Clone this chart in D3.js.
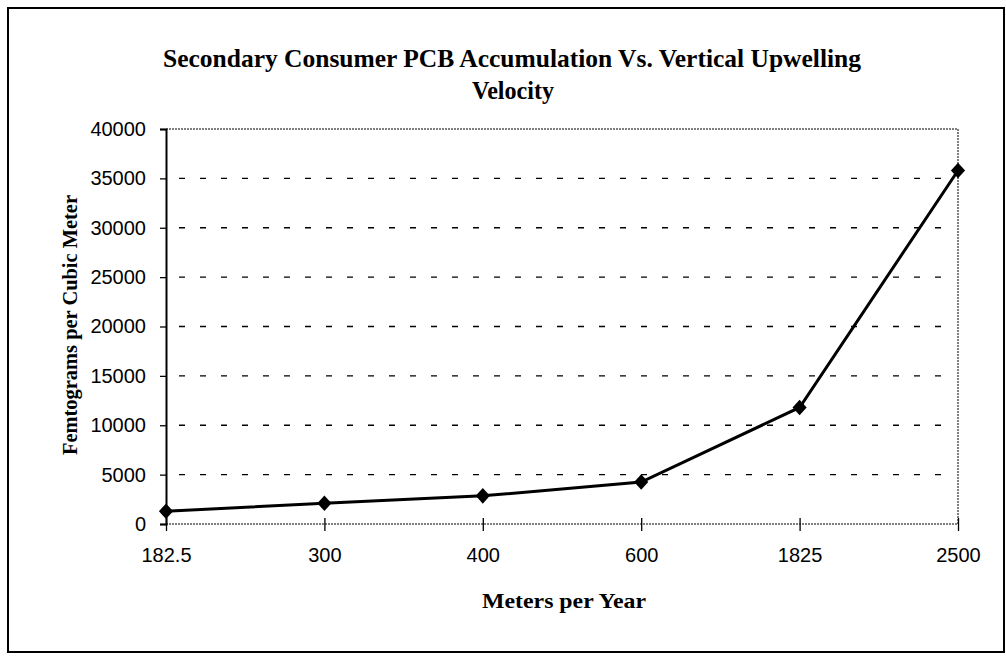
<!DOCTYPE html>
<html>
<head>
<meta charset="utf-8">
<script src="https://cdn.jsdelivr.net/npm/d3@7"></script>
<style>
  body { margin: 0; background: #fff; }
  svg { display: block; }
</style>
</head>
<body>
<div class="chart"></div>
<script>
  const width = 1006;
  const height = 657;
  const margin = { top: 129, right: 48, bottom: 133, left: 166 };

  // data
  const velocities = ['182.5', '300', '400', '600', '1825', '2500'];
  const accumulation = [1300, 2100, 2850, 4250, 11800, 35800];
  const yTicks = [0, 5000, 10000, 15000, 20000, 25000, 30000, 35000, 40000];

  const data = velocities.map((v, i) => ({ v: v, val: accumulation[i] }));

  const svg = d3.select('.chart').append('svg')
    .attr('width', width)
    .attr('height', height);

  // outer frame
  svg.append('rect')
    .attr('x', 8).attr('y', 8)
    .attr('width', 996).attr('height', 644)
    .attr('fill', 'none')
    .attr('stroke', '#000')
    .attr('stroke-width', 2);

  const xScale = d3.scalePoint()
    .domain(velocities)
    .range([margin.left, width - margin.right]);

  const yScale = d3.scaleLinear()
    .domain([0, 40000])
    .range([height - margin.bottom, margin.top]);

  const x0 = margin.left, x1 = width - margin.right;
  const y0 = height - margin.bottom, y1 = margin.top;

  // gridlines
  svg.append('g')
    .attr('class', 'grid')
    .selectAll('line')
    .data(yTicks.filter(d => d > 0 && d < 40000))
    .join('line')
    .attr('x1', x0 + 13)
    .attr('x2', x1 - 4)
    .attr('y1', d => yScale(d))
    .attr('y2', d => yScale(d))
    .attr('stroke', '#000')
    .attr('stroke-width', 1.3)
    .attr('stroke-dasharray', '6,15');

  // plot frame (top, right, bottom dotted grey)
  svg.append('path')
    .attr('d', `M${x0},${y1}H${x1}V${y0}H${x0}`)
    .attr('fill', 'none')
    .attr('stroke', '#555')
    .attr('stroke-width', 1.5)
    .attr('stroke-dasharray', '2,1');

  const yAxis = d3.axisLeft(yScale)
    .tickValues(yTicks)
    .tickSize(6)
    .tickPadding(14)
    .tickFormat(d3.format('d'));

  const gy = svg.append('g')
    .attr('class', 'y-axis')
    .attr('transform', `translate(${x0}, 0)`)
    .call(yAxis);
  gy.select('.domain').attr('stroke', '#000').attr('stroke-width', 2);
  gy.selectAll('.tick line').attr('stroke', '#000').attr('stroke-width', 1.3);
  gy.selectAll('text')
    .style('font-family', '"Liberation Sans", Arial, sans-serif')
    .style('font-size', '20px')
    .attr('fill', '#000');

  const xAxis = d3.axisBottom(xScale)
    .tickSize(6)
    .tickPadding(18)
    .tickSizeOuter(0);

  const gx = svg.append('g')
    .attr('class', 'x-axis')
    .attr('transform', `translate(0, ${y0})`)
    .call(xAxis);
  gx.select('.domain').remove();
  gx.selectAll('.tick line')
    .attr('y1', -6)
    .attr('y2', 7)
    .attr('stroke', '#000')
    .attr('stroke-width', 1.3);
  gx.selectAll('text')
    .style('font-family', '"Liberation Sans", Arial, sans-serif')
    .style('font-size', '20px')
    .attr('fill', '#000');

  // series line
  const line = d3.line()
    .x(d => xScale(d.v))
    .y(d => yScale(d.val));

  svg.append('path')
    .datum(data)
    .attr('d', line)
    .attr('fill', 'none')
    .attr('stroke', '#000')
    .attr('stroke-width', 3);

  svg.append('g')
    .attr('class', 'markers')
    .selectAll('path')
    .data(data)
    .join('path')
    .attr('transform', d => `translate(${xScale(d.v)}, ${yScale(d.val)}) scale(1, 1.1) rotate(45)`)
    .attr('d', d3.symbol(d3.symbolSquare, 100))
    .attr('fill', '#000');

  // titles
  const serif = '"Liberation Serif", "Times New Roman", serif';
  const title = svg.append('text')
    .attr('text-anchor', 'middle')
    .style('font-family', serif)
    .style('font-weight', 'bold')
    .style('font-size', '26px');
  title.append('tspan')
    .attr('x', 512).attr('y', 67)
    .attr('textLength', 698)
    .attr('lengthAdjust', 'spacingAndGlyphs')
    .text('Secondary Consumer PCB Accumulation Vs. Vertical Upwelling');
  title.append('tspan')
    .attr('x', 513).attr('y', 99)
    .attr('textLength', 82)
    .attr('lengthAdjust', 'spacingAndGlyphs')
    .text('Velocity');

  svg.append('text')
    .attr('x', 564).attr('y', 608)
    .attr('text-anchor', 'middle')
    .attr('textLength', 164)
    .attr('lengthAdjust', 'spacingAndGlyphs')
    .style('font-family', serif)
    .style('font-weight', 'bold')
    .style('font-size', '21px')
    .text('Meters per Year');

  svg.append('text')
    .attr('transform', 'translate(77, 325) rotate(-90)')
    .attr('text-anchor', 'middle')
    .attr('textLength', 260)
    .attr('lengthAdjust', 'spacingAndGlyphs')
    .style('font-family', serif)
    .style('font-weight', 'bold')
    .style('font-size', '21px')
    .text('Femtograms per Cubic Meter');
</script>
</body>
</html>
